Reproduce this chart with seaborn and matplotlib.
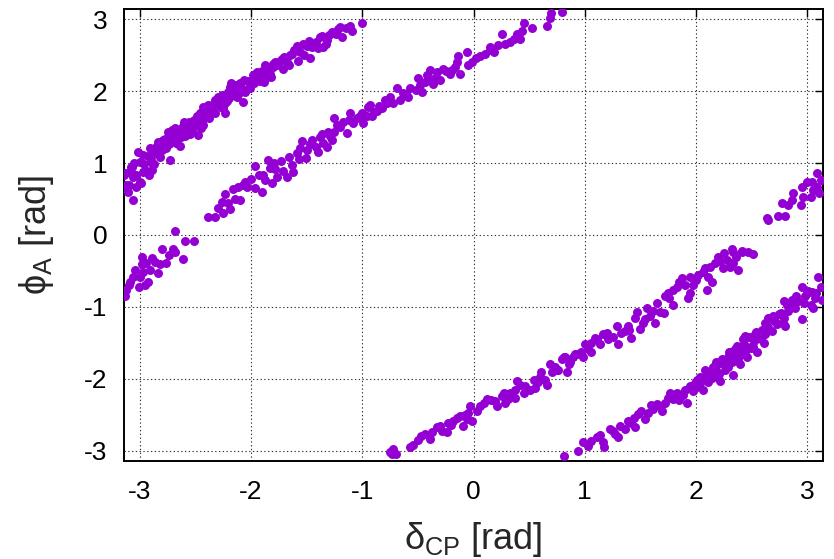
import numpy as np
import pandas as pd
import matplotlib
matplotlib.use("Agg")
import matplotlib.pyplot as plt
import seaborn as sns

# Branch running from the lower-left corner up to phi_A ~ 3 near delta_CP ~ -1
branch_a_delta = [-3.13, -3.12, -3.11, -3.06, -3.14, -3.12, -3.08, -3.06, -3.04, -2.99, -3.02, -2.97, -2.95,
                  -2.91, -2.90, -2.86, -2.82, -2.84, -2.79, -2.75, -2.73, -2.76, -2.70, -2.67, -2.64, -2.68,
                  -2.63, -2.60, -2.57, -2.54, -2.51, -2.48, -2.46, -2.43, -2.41, -2.43, -2.36, -2.32, -2.30,
                  -2.32, -2.27, -2.23, -2.21, -2.23, -2.18, -2.15, -2.12, -2.10, -2.07, -2.05, -2.01, -1.98,
                  -1.97, -1.91, -1.88, -1.83, -1.80, -1.95, -1.86, -1.80, -1.74, -1.71, -1.65, -1.61, -1.58,
                  -1.53, -1.47, -1.45, -1.38, -1.35, -1.32, -1.27, -1.20, -1.18, -1.11, -1.09, -1.00, -2.89,
                  -2.97, -3.07, -3.10, -3.00, -3.03, -2.89, -2.62, -2.58, -2.55, -2.50, -2.47, -2.45, -2.40,
                  -2.38, -2.35, -2.28, -2.25, -2.20, -2.17, -2.13, -2.09, -2.03, -2.00, -1.94, -1.90, -1.85,
                  -1.77, -1.72, -1.68, -1.63, -1.56, -1.50, -1.42, -1.40, -1.30, -1.24, -1.15, -2.78, -2.72,
                  -2.69, -2.66, -2.80, -2.93, -3.00,
                  -2.88, -2.85, -2.81, -2.77, -2.74, -2.71, -2.68, -2.65, -2.61, -2.59, -2.56, -2.53, -2.49,
                  -2.44, -2.42, -2.39, -2.34, -2.31, -2.26, -2.22, -2.19, -2.14, -2.11, -2.06, -2.02, -1.96,
                  -1.92, -1.87, -1.82, -1.78, -1.70, -1.66, -1.59, -1.52, -1.48, -1.36, -1.33, -1.22, -3.09,
                  -3.05, -3.03, -2.96, -2.92, -2.87]
branch_a_phi = [0.86, 0.70, 0.60, 0.49, 0.84, 0.68, 0.95, 0.81, 0.83, 0.72, 1.15, 1.11, 0.90,
                1.21, 1.04, 1.15, 1.08, 1.29, 1.32, 1.43, 1.04, 1.21, 1.36, 1.28, 1.23, 1.49,
                1.36, 1.57, 1.43, 1.50, 1.60, 1.39, 1.69, 1.53, 1.64, 1.78, 1.73, 1.87, 1.92,
                1.69, 1.78, 1.83, 1.99, 1.69, 2.11, 1.95, 2.01, 2.11, 1.85, 1.99, 2.04, 2.22,
                2.11, 2.24, 2.12, 2.24, 2.33, 2.26, 2.19, 2.38, 2.42, 2.31, 2.50, 2.57, 2.42,
                2.66, 2.46, 2.61, 2.75, 2.61, 2.71, 2.82, 2.89, 2.75, 2.91, 2.84, 2.95, 0.90,
                0.88, 0.95, 0.70, 0.74, 0.84, 1.00, 1.45, 1.52, 1.40, 1.52, 1.60, 1.48, 1.70,
                1.62, 1.80, 1.88, 1.76, 1.90, 2.02, 1.92, 2.06, 2.14, 2.10, 2.18, 2.28, 2.30,
                2.36, 2.45, 2.40, 2.52, 2.55, 2.62, 2.68, 2.60, 2.78, 2.80, 2.87, 1.25, 1.30,
                1.42, 1.35, 1.18, 1.10, 1.02,
                1.12, 1.22, 1.20, 1.33, 1.26, 1.46, 1.31, 1.40, 1.52, 1.38, 1.57, 1.45, 1.66,
                1.58, 1.75, 1.80, 1.72, 1.82, 1.95, 1.86, 2.05, 2.08, 1.97, 2.16, 2.04, 2.24,
                2.14, 2.36, 2.20, 2.40, 2.48, 2.36, 2.62, 2.50, 2.70, 2.76, 2.66, 2.86, 0.88,
                1.00, 0.66, 0.98, 0.84, 0.98]

# Branch from delta_CP ~ -2.4 up to the top edge near delta_CP ~ 0.8
branch_b_delta = [-2.39, -2.32, -2.25, -2.30, -2.26, -2.19, -2.23, -2.16, -2.14, -2.10, -2.12, -2.07, -2.04,
                  -2.00, -1.96, -1.90, -1.96, -1.89, -1.87, -1.85, -1.83, -1.81, -1.79, -1.77, -1.71, -1.68,
                  -1.66, -1.63, -1.62, -1.59, -1.56, -1.54, -1.51, -1.50, -1.45, -1.42, -1.40, -1.38, -1.35,
                  -1.31, -1.32, -1.27, -1.25, -1.25, -1.23, -1.17, -1.14, -1.11, -1.08, -1.05, -0.99, -0.96,
                  -0.93, -0.89, -0.82, -0.78, -0.72, -1.00, -0.95, -0.91, -0.87, -0.80, -0.69, -0.66, -0.63,
                  -0.59, -0.57, -0.52, -0.50, -0.46, -0.44, -0.41, -0.39, -0.36, -0.33, -0.30, -0.27, -0.21,
                  -0.19, -0.15, -0.12, -0.14, -0.06, -0.05, -0.01, 0.06, 0.10, 0.15, 0.15, 0.22, 0.26,
                  0.28, 0.33, 0.36, 0.39, 0.42, 0.44, 0.45, 0.53, 0.66, 0.69, 0.70, 0.80,
                  -2.21, -2.05, -1.93, -1.78, -1.73, -1.57, -1.47, -1.36, -1.29, -1.20, -1.12, -1.02, -0.85,
                  -0.75, -0.61, -0.48, -0.42, -0.35, -0.25, -0.17, 0.02, 0.18]
branch_b_phi = [0.25, 0.25, 0.31, 0.38, 0.46, 0.36, 0.57, 0.64, 0.50, 0.49, 0.67, 0.70, 0.67,
                0.78, 0.65, 0.60, 0.96, 0.84, 0.77, 1.04, 0.93, 0.72, 1.00, 0.81, 0.89, 0.81,
                1.08, 0.97, 0.88, 1.14, 1.21, 1.30, 1.07, 1.18, 1.32, 1.22, 1.15, 1.36, 1.28,
                1.43, 1.22, 1.32, 1.62, 1.43, 1.53, 1.57, 1.42, 1.69, 1.55, 1.62, 1.55, 1.66,
                1.80, 1.71, 1.76, 1.83, 1.83, 1.69, 1.78, 1.66, 1.73, 1.87, 2.04, 1.87, 1.97,
                1.92, 2.04, 2.01, 2.18, 1.99, 2.12, 2.15, 2.29, 2.10, 2.26, 2.15, 2.31, 2.24,
                2.29, 2.40, 2.24, 2.49, 2.54, 2.36, 2.40, 2.49, 2.52, 2.57, 2.61, 2.64, 2.79,
                2.66, 2.68, 2.73, 2.80, 2.73, 2.84, 2.94, 2.87, 2.91, 3.01, 3.08, 3.10,
                0.45, 0.74, 0.83, 0.92, 1.03, 1.05, 1.26, 1.40, 1.37, 1.50, 1.60, 1.66, 1.79,
                1.92, 1.96, 2.08, 2.22, 2.18, 2.28, 2.33, 2.46, 2.55]

# Short branch at the left edge, below phi_A = 0
branch_c_delta = [-3.13, -3.12, -3.10, -3.09, -3.06, -3.04, -3.01, -3.00, -2.98, -2.98, -2.97, -2.95, -2.93,
                  -2.94, -2.91, -2.89, -2.86, -2.84, -2.82, -2.80, -2.76, -2.74, -2.68, -2.68, -2.61, -2.59,
                  -2.51, -2.70]
branch_c_phi = [-0.85, -0.76, -0.69, -0.66, -0.58, -0.48, -0.73, -0.58, -0.30, -0.41, -0.51, -0.69, -0.65,
                -0.39, -0.48, -0.32, -0.37, -0.53, -0.41, -0.20, -0.39, -0.28, -0.23, 0.05, -0.34, -0.08,
                -0.08, -0.20]

# Branch from the bottom edge near delta_CP ~ -0.75 up to phi_A ~ -0.2
branch_d_delta = [-0.73, -0.72, -0.75, -0.57, -0.54, -0.50, -0.44, -0.39, -0.37, -0.33, -0.28, -0.24, -0.23,
                  -0.18, -0.15, -0.12, -0.09, -0.06, -0.05, -0.03, -0.01, 0.06, 0.09, 0.12, 0.19, 0.21,
                  0.26, 0.27, 0.28, 0.31, 0.37, 0.37, 0.39, 0.45, 0.46, 0.51, 0.54, 0.55, 0.58, 0.61,
                  0.64, 0.66, 0.69, 0.73, 0.76, 0.80, 0.82, 0.84, 0.87, 0.89, 0.93, 0.97, 0.98, 1.00,
                  1.06, 1.06, 1.11, 0.75, 0.81, 0.91, 1.09, 1.14, 1.16, 1.21, 1.20, 1.29, 1.30, 1.33,
                  1.36, 1.39, 1.42, 1.45, 1.47, 1.50, 1.52, 1.56, 1.59, 1.63, 1.65, 1.68, 1.71, 1.72,
                  1.75, 1.79, 1.79, 1.83, 1.87, 1.90, 1.93, 1.95, 1.95, 1.97, 2.02, 2.06, 2.10, 2.11,
                  2.14, 2.13, 2.17, 2.20, 2.24, 2.25, 2.28, 2.31, 2.33, 2.33, 2.38, 2.41, 2.47, 2.51,
                  2.32, 2.41,
                  -0.70, -0.47, -0.30, -0.20, -0.08, 0.03, 0.16, 0.33, 0.42, 0.60, 0.71, 0.86, 1.03,
                  1.25, 1.40, 1.54, 1.61, 1.76, 1.85, 2.00, 2.08, 2.22, 2.36]
branch_d_phi = [-3.04, -2.97, -3.02, -2.95, -2.92, -2.85, -2.77, -2.84, -2.74, -2.67, -2.72, -2.74, -2.61,
                -2.59, -2.54, -2.52, -2.66, -2.56, -2.47, -2.38, -2.58, -2.38, -2.34, -2.28, -2.31, -2.38,
                -2.24, -2.19, -2.33, -2.28, -2.26, -2.15, -2.03, -2.19, -2.10, -2.15, -2.01, -2.12, -2.05, -1.91,
                -2.01, -2.08, -1.80, -1.84, -1.87, -1.73, -1.70, -1.91, -1.77, -1.70, -1.66, -1.63, -1.69, -1.51,
                -1.50, -1.62, -1.45, -1.87, -1.70, -1.66, -1.43, -1.52, -1.38, -1.45, -1.36, -1.27, -1.52, -1.36,
                -1.34, -1.27, -1.43, -1.15, -1.07, -1.31, -1.22, -1.01, -1.13, -1.22, -0.94, -1.07, -1.08, -0.85,
                -0.80, -0.97, -0.76, -0.73, -0.60, -0.69, -0.87, -0.80, -0.58, -0.69, -0.55, -0.51, -0.76, -0.58,
                -0.65, -0.44, -0.39, -0.30, -0.46, -0.25, -0.35, -0.44, -0.23, -0.39, -0.48, -0.23, -0.23, -0.26,
                -0.20, -0.22,
                -3.04, -2.80, -2.65, -2.64, -2.50, -2.44, -2.30, -2.20, -2.08, -1.98, -1.90, -1.80, -1.58,
                -1.42, -1.32, -1.17, -1.06, -0.88, -0.66, -0.62, -0.46, -0.36, -0.30]

# Branch from the bottom edge near delta_CP ~ 0.8 to the right edge, plus its wrap-around
branch_e_delta = [0.81, 0.94, 0.98, 1.03, 1.06, 1.11, 1.16, 1.17, 1.23, 1.27, 1.30, 1.32, 1.36,
                  1.39, 1.44, 1.45, 1.48, 1.51, 1.54, 1.57, 1.61, 1.65, 1.69, 1.72, 1.75, 1.79,
                  1.83, 1.86, 1.90, 1.92, 1.95, 1.97, 2.01, 2.02, 2.06, 2.10, 2.11, 2.15, 2.17,
                  2.20, 2.22, 2.26, 2.29, 2.32, 2.33, 2.35, 2.38, 2.41, 2.43, 2.46, 2.49, 2.52,
                  2.55, 2.56, 2.59, 2.61, 2.64, 2.65, 2.68, 2.69, 2.73, 2.76, 2.79, 2.80, 2.79,
                  2.83, 2.86, 2.89, 2.92, 2.95, 2.95, 2.98, 3.03, 3.04, 3.07, 3.05, 3.10, 3.12,
                  3.13, 2.04, 2.08, 2.13, 2.19, 2.24, 2.27, 2.31, 2.36, 2.39, 2.44, 2.50, 2.53,
                  2.62, 2.71, 2.88, 3.00, 1.88, 1.99, 2.14, 2.29,
                  1.99, 2.04, 2.08, 2.12, 2.16, 2.18, 2.21, 2.23, 2.27, 2.30, 2.34, 2.37, 2.40,
                  2.42, 2.45, 2.48, 2.51, 2.54, 2.58, 2.62, 2.66, 2.70, 2.75, 2.78, 2.82, 2.90,
                  2.97, 3.01, 3.08, 1.60, 1.68, 1.77, 1.85, 1.42, 1.25, 1.14,
                  2.64, 2.65, 2.74, 2.80, 2.77, 2.83, 2.86, 2.87, 2.94, 2.95, 2.96, 3.00, 3.03,
                  3.04, 3.05, 3.09, 3.09, 3.11, 3.12]
branch_e_phi = [-3.07, -3.00, -2.88, -2.93, -2.86, -2.81, -2.88, -2.95, -2.70, -2.77, -2.81, -2.65, -2.70,
                -2.59, -2.54, -2.67, -2.49, -2.45, -2.56, -2.47, -2.42, -2.35, -2.45, -2.33, -2.26, -2.28,
                -2.19, -2.24, -2.15, -2.33, -2.10, -2.17, -2.01, -2.10, -2.15, -1.94, -2.05, -1.84, -1.96,
                -1.80, -2.03, -1.87, -1.70, -1.77, -1.94, -1.59, -1.73, -1.66, -1.52, -1.69, -1.57, -1.48,
                -1.62, -1.43, -1.32, -1.50, -1.27, -1.15, -1.34, -1.13, -1.24, -1.08, -1.15, -1.27, -0.92,
                -1.06, -0.90, -1.01, -0.92, -1.17, -0.73, -0.85, -0.97, -0.79, -0.87, -1.01, -0.59, -0.73,
                -0.90, -2.06, -2.00, -1.92, -1.90, -1.78, -1.82, -1.62, -1.65, -1.58, -1.40, -1.55, -1.38,
                -1.38, -1.20, -0.98, -0.80, -2.22, -2.12, -1.99, -1.83,
                -2.06, -1.97, -1.88, -2.00, -1.90, -1.76, -1.93, -1.72, -1.78, -1.62, -1.70, -1.55, -1.80,
                -1.45, -1.60, -1.42, -1.56, -1.35, -1.45, -1.22, -1.30, -1.20, -1.10, -1.22, -0.98, -0.85,
                -0.95, -0.78, -0.80, -2.36, -2.38, -2.20, -2.30, -2.62, -2.72, -2.78,
                0.24, 0.21, 0.26, 0.26, 0.45, 0.42, 0.49, 0.58, 0.41, 0.67, 0.53, 0.74, 0.53,
                0.74, 0.63, 0.86, 0.67, 0.58, 0.77]

delta_cp = branch_a_delta + branch_b_delta + branch_c_delta + branch_d_delta + branch_e_delta
phi_a = branch_a_phi + branch_b_phi + branch_c_phi + branch_d_phi + branch_e_phi
points = pd.DataFrame({"delta_cp": delta_cp, "phi_a": phi_a})

sns.set_theme(style="white")
plt.rcParams["font.family"] = ["Liberation Sans", "DejaVu Sans"]
plt.rcParams["axes.unicode_minus"] = False
plt.rcParams["mathtext.fontset"] = "custom"
plt.rcParams["mathtext.rm"] = "Liberation Sans"
plt.rcParams["mathtext.it"] = "Liberation Sans:italic"

fig = plt.figure(figsize=(8.34, 5.59), dpi=100)
ax = fig.add_axes([0.1487, 0.1753, 0.8381, 0.8087])

sns.scatterplot(data=points, x="delta_cp", y="phi_a", ax=ax, color="#9400d3",
                s=42, linewidth=0, legend=False, zorder=3)

ax.set_xlim(-np.pi, np.pi)
ax.set_ylim(-np.pi, np.pi)
ticks = [-3, -2, -1, 0, 1, 2, 3]
ax.set_xticks(ticks)
ax.set_yticks(ticks)
ax.set_xticklabels([str(t) for t in ticks])
ax.set_yticklabels([str(t) for t in ticks])

ax.grid(True, color="#333333", linestyle=(0, (1.2, 2.2)), linewidth=0.8, zorder=0)
ax.tick_params(axis="both", which="major", direction="in", length=6, width=1.0,
               top=True, right=True, labelsize=19, colors="black")
ax.tick_params(axis="x", pad=14)
ax.tick_params(axis="y", pad=12)
for side in ax.spines.values():
    side.set_visible(True)
    side.set_color("black")
    side.set_linewidth(1.4)

ax.set_xlabel(r"$\mathrm{\delta_{CP}}$ [rad]", fontsize=26, labelpad=11)
ax.set_ylabel(r"$\mathrm{\phi_{A}}$ [rad]", fontsize=26, labelpad=20)

fig.savefig("out.png", dpi=100)
